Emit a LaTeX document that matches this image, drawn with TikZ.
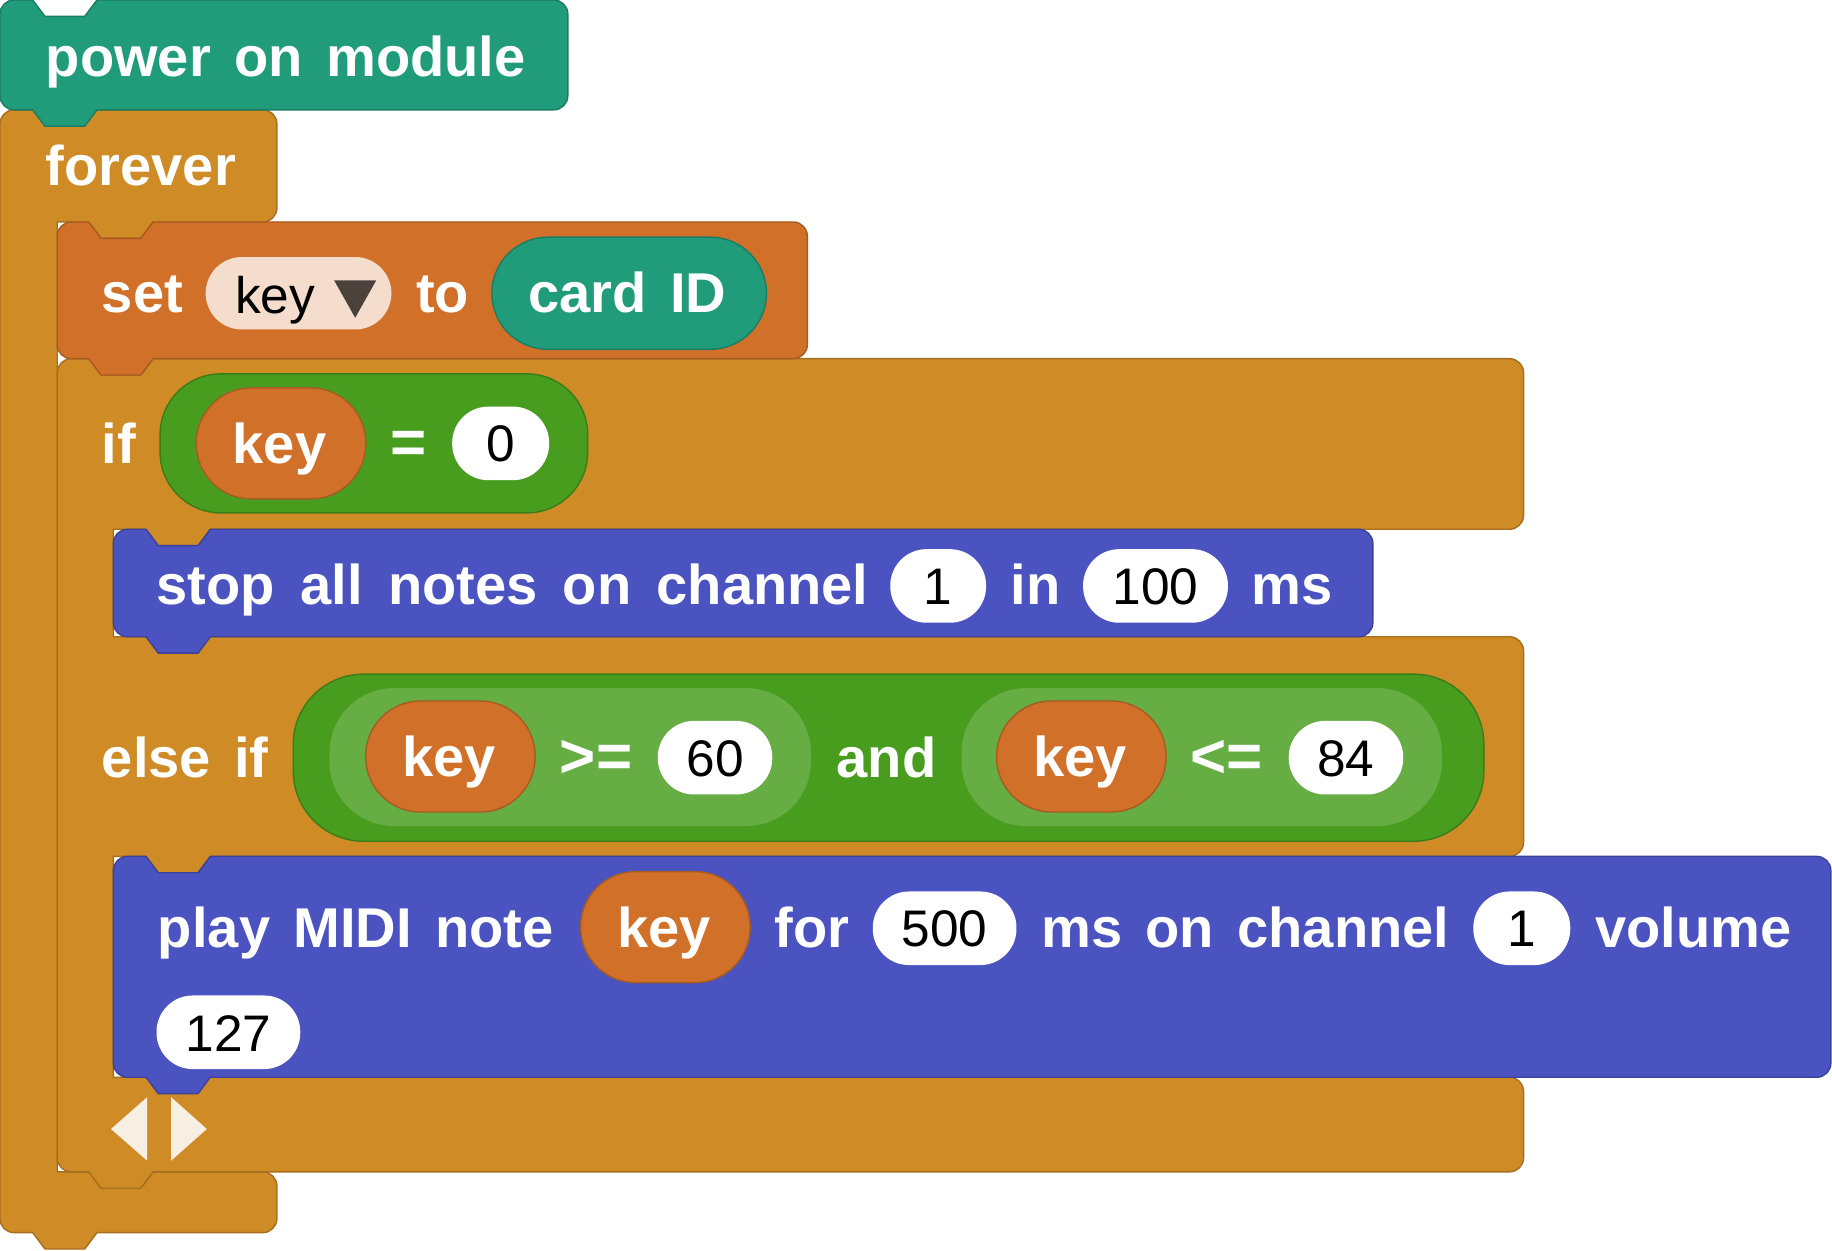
\documentclass[tikz,border=0pt]{standalone}
\usepackage{fontspec}
\setmainfont{Liberation Sans}[WordSpace=1.5]
\newfontfamily\widefont{Liberation Sans}[WordSpace=1.62]
\definecolor{teal}{HTML}{209C7A}\definecolor{tealD}{HTML}{1A7C62}
\definecolor{gold}{HTML}{CF8B25}\definecolor{goldD}{HTML}{A66F1E}
\definecolor{rust}{HTML}{D17129}\definecolor{rustD}{HTML}{A75A21}
\definecolor{ind}{HTML}{4A53C0}\definecolor{indD}{HTML}{3B4299}
\definecolor{grn}{HTML}{489C1E}\definecolor{grnD}{HTML}{3A7D18}
\definecolor{lgrn}{HTML}{66AD44}
\definecolor{keyf}{HTML}{F5DDCD}\definecolor{tri}{HTML}{4B423C}\definecolor{arr}{HTML}{F8EFE3}
\tikzset{
 wt/.style={anchor=base west,inner sep=0pt,yshift=-0.7pt,text=white,font=\fontsize{48}{50}\selectfont\bfseries},
 wtop/.style={wt,font=\fontsize{53}{55}\selectfont\bfseries},
 bk/.style={anchor=base,inner sep=0pt,text=black,font=\fontsize{44}{46}\selectfont},
 blk/.style={line width=1.2pt,line join=round},
 tealb/.style={blk,fill=teal,draw=tealD},
 goldb/.style={blk,fill=gold,draw=goldD},
 rustb/.style={blk,fill=rust,draw=rustD},
 indb/.style={blk,fill=ind,draw=indD},
 grnb/.style={blk,fill=grn,draw=grnD},
}
\newcommand\pill[6]{\path[#1,rounded corners=#6] (#2,#3) rectangle (#4,#5);}
\newcommand\numpill[6]{\path[fill=white,rounded corners=31] (#2,#3) rectangle (#4,#3+63);
 \node[bk] (#1) at ({(#2+#4)/2},#5) {#6};}
\newcommand\keypill[3]{\path[rustb,rounded corners=47] (#2,#3) rectangle (#2+145,#3+95);
 \node[wt] (#1) at (#2+31,#3+64) {key};}
% notch down at x on level y
\newcommand\nch[2]{(#1,#2) -- (#1+10.5,#2+14) -- (#1+44.5,#2+14) -- (#1+55,#2)}
\newcommand\nchr[2]{(#1+55,#2) -- (#1+44.5,#2+14) -- (#1+10.5,#2+14) -- (#1,#2)}
% rounded corner at (cx,cy), arriving along (d1x,d1y), leaving along (d2x,d2y)
\newcommand\cor[6]{-- (#1-12*#3,#2-12*#4) .. controls (#1-5.4*#3,#2-5.4*#4) and (#1+5.4*#5,#2+5.4*#6) .. (#1+12*#5,#2+12*#6)}
\begin{document}
\begin{tikzpicture}[x=1pt,y=-1pt]
\useasboundingbox (0,0) rectangle (1568,1070);
% forever
\draw[goldb] \nch{28}{94} \cor{237}{94}{1}{0}{0}{1} \cor{237}{190}{0}{1}{-1}{0} -- \nchr{76}{190} -- (49,190) -- (49,1003) -- \nch{76}{1003} \cor{237}{1003}{1}{0}{0}{1} \cor{237}{1055}{0}{1}{-1}{0} -- \nchr{28}{1055} \cor{0}{1055}{-1}{0}{0}{-1} \cor{0}{94}{0}{-1}{1}{0} -- cycle;
% power on
\draw[tealb] \nch{28}{0} \cor{486}{0}{1}{0}{0}{1} \cor{486}{94}{0}{1}{-1}{0} -- \nchr{28}{94} \cor{0}{94}{-1}{0}{0}{-1} \cor{0}{0}{0}{-1}{1}{0} -- cycle;
\node[wt] (power) at (39,65) {power on module};
\node[wt] (forever) at (39,158) {forever};
% if / else if
\draw[goldb] \nch{76}{307} \cor{1304}{307}{1}{0}{0}{1} \cor{1304}{453}{0}{1}{-1}{0} -- \nchr{125}{453} -- (97,453) -- (97,545) \cor{1304}{545}{1}{0}{0}{1} \cor{1304}{733}{0}{1}{-1}{0} -- \nchr{125}{733} -- (97,733) -- (97,922) \cor{1304}{922}{1}{0}{0}{1} \cor{1304}{1003}{0}{1}{-1}{0} -- \nchr{76}{1003} \cor{49}{1003}{-1}{0}{0}{-1} \cor{49}{307}{0}{-1}{1}{0} -- cycle;
% set
\draw[rustb] \nch{76}{190} \cor{691}{190}{1}{0}{0}{1} \cor{691}{307}{0}{1}{-1}{0} -- \nchr{76}{307} \cor{49}{307}{-1}{0}{0}{-1} \cor{49}{190}{0}{-1}{1}{0} -- cycle;
\node[wt] (set) at (87,267) {set};
\pill{fill=keyf}{176}{220}{335}{282}{31}
\node[bk,anchor=base west] (keyvar) at (201,268) {key};
\fill[tri] (286,240) -- (322,240) -- (304,272) -- cycle;
\node[wt] (to) at (356,267) {to};
\pill{tealb}{421}{203}{656}{299}{48}
\node[wt] (card) at (452,267) {card ID};
% if row
\node[wt] (if) at (87,396) {if};
\pill{grnb}{137}{320}{503}{439}{52}
\keypill{k1}{168}{332}
\node[wtop] (eq) at (334,396) {=};
\numpill{n0}{387}{348}{470}{395}{0}
% stop
\draw[indb] \nch{125}{453} \cor{1175}{453}{1}{0}{0}{1} \cor{1175}{545}{0}{1}{-1}{0} -- \nchr{125}{545} \cor{97}{545}{-1}{0}{0}{-1} \cor{97}{453}{0}{-1}{1}{0} -- cycle;
\node[wt] (stop) at (134,517) {\widefont\bfseries stop all notes on channel};
\numpill{n1}{762}{470}{844}{517}{1}
\node[wt] (in) at (865,517) {in};
\numpill{n100}{927}{470}{1051}{517}{100}
\node[wt] (ms1) at (1071,517) {ms};
% else if
\node[wt] (elif) at (87,665) {else if};
\pill{grnb}{251}{577}{1270}{720}{60}
\pill{fill=lgrn}{282}{589}{694}{707}{55}
\keypill{k2}{313}{600}
\node[wtop] (ge) at (479,665) {>=};
\numpill{n60}{563}{617}{661}{665}{60}
\node[wt] (and) at (716,665) {and};
\pill{fill=lgrn}{823}{589}{1234}{707}{55}
\keypill{k3}{853}{600}
\node[wtop] (le) at (1019,665) {<=};
\numpill{n84}{1103}{617}{1201}{665}{84}
% play
\draw[indb] \nch{125}{733} \cor{1567}{733}{1}{0}{0}{1} \cor{1567}{922}{0}{1}{-1}{0} -- \nchr{125}{922} \cor{97}{922}{-1}{0}{0}{-1} \cor{97}{733}{0}{-1}{1}{0} -- cycle;
\node[wt] (play) at (135,810) {play MIDI note};
\keypill{k4}{497}{746}
\node[wt] (for) at (663,810) {for};
\numpill{n500}{747}{763}{870}{810}{500}
\node[wt] (ms2) at (891,810) {ms on channel};
\numpill{n1b}{1261}{763}{1344}{810}{1}
\node[wt] (vol) at (1365,810) {volume};
\numpill{n127}{134}{852}{257}{900}{127}
% mutators
\fill[arr] (95,966.3) -- (126,939) -- (126,993.5) -- cycle;
\fill[arr] (177,966.3) -- (146.4,939) -- (146.4,993.5) -- cycle;
\end{tikzpicture}
\end{document}
